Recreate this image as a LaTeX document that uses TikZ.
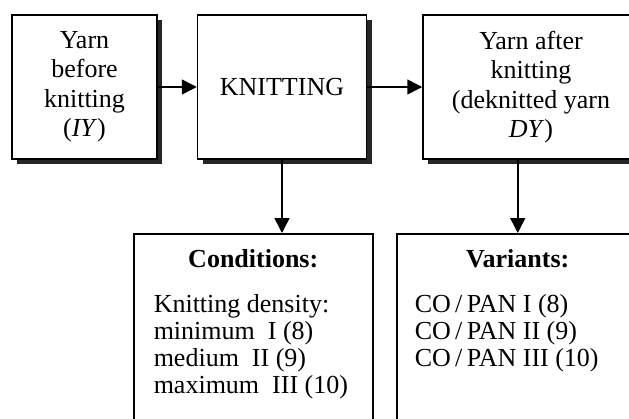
\documentclass[tikz,border=0pt]{standalone}
\usepackage{fontspec}
\setmainfont{Liberation Serif}
\usetikzlibrary{positioning,shadows,arrows.meta}

\begin{document}
\begin{tikzpicture}[
    x=1pt, y=-1pt,
    line width=1.5pt,
    arr/.style={draw, -{Triangle[length=15pt,width=15pt]}},
    stage/.style={draw, rectangle, inner sep=0pt, minimum height=144pt, align=center,
        font=\fontsize{26}{29.5}\selectfont, fill=white,
        drop shadow={shadow xshift=5pt, shadow yshift=-5pt, fill=black!85, opacity=1}},
    listbox/.style={draw, rectangle, anchor=north west, inner xsep=20pt, inner ysep=16pt,
        font=\fontsize{26}{27}\selectfont}
]
    \path[use as bounding box, clip] (0,0) rectangle (629,418);

    % process chain
    \node[stage, minimum width=145pt] (yarnin) at (84.5,87) {Yarn\\before\\knitting\\(\textit{IY})};
    \node[stage, minimum width=169pt, right=39pt of yarnin] (knit) {\raisebox{-3pt}{KNITTING}};
    \node[stage, minimum width=216pt, right=55pt of knit] (yarnout) {Yarn after\\knitting\\(deknitted yarn\\\textit{DY})};

    % conditions and variants
    \node[listbox] (cond) at (133,233) {\parbox[c][168pt][t]{199pt}{\centering\textbf{Conditions:}\par\vspace{18pt}\raggedright
        Knitting density:\\minimum\ \ I (8)\\medium\ \ II (9)\\maximum\ \ III (10)}};
    \node[listbox, inner xsep=18pt] (vars) at (396,233) {\parbox[c][168pt][t]{206pt}{\centering\textbf{Variants:}\par\vspace{18pt}\raggedright
        CO\,/\,PAN I (8)\\CO\,/\,PAN II (9)\\CO\,/\,PAN III (10)}};

    \draw[arr] (yarnin) -- (knit);
    \draw[arr] (knit) -- (yarnout);
    \draw[arr] (knit.south) -- (knit.south |- cond.north);
    \draw[arr] (vars.north |- yarnout.south) -- (vars.north);
\end{tikzpicture}
\end{document}
